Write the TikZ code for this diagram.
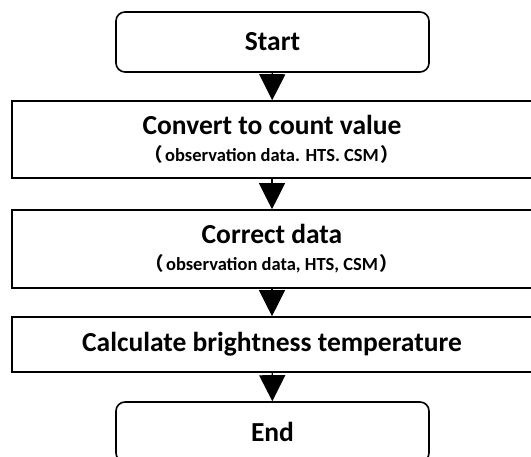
\documentclass[tikz,border=0pt]{standalone}
\usepackage{fontspec}
\setmainfont{Carlito}
\newfontfamily\cjk{Noto Sans CJK SC}
\usetikzlibrary{arrows.meta,positioning}
\newcommand{\headtxt}[1]{{\fontsize{27.5}{30}\selectfont #1}}
\newcommand{\notetxt}[1]{{\fontsize{18.5}{20}\selectfont{\cjk （}\kern2pt#1\kern2pt{\cjk ）}}}

\begin{document}
\begin{tikzpicture}[x=1pt,y=1pt]
\tikzstyle{every node}+=[inner sep=0pt,font=\bfseries]
\tikzstyle{term}=[draw,line width=1.6pt,rounded corners=9pt,minimum width=313pt,minimum height=60pt]
\tikzstyle{proc}=[draw,line width=1.6pt,minimum width=520pt,align=center]
\tikzstyle{flow}=[line width=1.2pt,-{Triangle[width=26pt,length=26pt]}]
\useasboundingbox (0,0) rectangle (531,457);
\clip (0,0) rectangle (531,457);
% terminals and steps
\node [term] (start) at (272.5,415) {\headtxt{Start}};
\node [proc,minimum height=77pt] (conv) at (272,317.5) {\headtxt{Convert to count value}\\[10pt] \notetxt{observation data. HTS. CSM}};
\node [proc,minimum height=78pt] (corr) at (272,208) {\headtxt{Correct data}\\[10pt] \notetxt{observation data, HTS, CSM}};
\node [proc,minimum height=55pt] (calc) at (272,112.5) {\headtxt{Calculate brightness temperature}};
\node [term] (end) at (272.5,25) {\headtxt{End}};
% arrows
\draw [flow] (start) -- (conv);
\draw [flow] (conv) -- (corr);
\draw [flow] (corr) -- (calc);
\draw [flow] (calc) -- (end);
\end{tikzpicture}
\end{document}
